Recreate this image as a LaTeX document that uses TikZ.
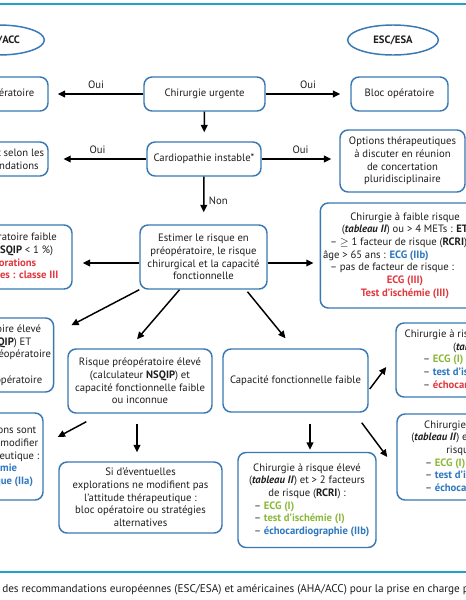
\documentclass[tikz,border=0pt]{standalone}
\usepackage{fontspec}
\setmainfont{PT Sans}
\usepackage{xcolor}
\usetikzlibrary{calc,arrows.meta,positioning,shapes.geometric}
\definecolor{bordc}{HTML}{3A78B5}
\definecolor{rulec}{HTML}{1FA3C8}
\definecolor{txtc}{HTML}{1E1E1E}
\definecolor{clsI}{HTML}{8DB83A}
\definecolor{clsII}{HTML}{2E78C0}
\definecolor{clsIII}{HTML}{E2383F}
\newcommand{\gI}[1]{\textcolor{clsI}{\textbf{#1}}}
\newcommand{\bII}[1]{\textcolor{clsII}{\textbf{#1}}}
\newcommand{\rIII}[1]{\textcolor{clsIII}{\textbf{#1}}}
\newcommand{\tabII}{\textbf{\textit{tableau II}}}
\newcommand{\itm}[2]{\makebox[#1][l]{– #2}}
\tikzset{
  ar/.style={-{Triangle[length=5.5pt,width=5pt]},line width=1.1pt,black},
  box/.style={draw=bordc,line width=1.1pt,rounded corners=6pt,align=center,inner sep=2pt,text=txtc,font=\fontsize{8}{9.5}\selectfont},
  ovl/.style={ellipse,draw=bordc,line width=1.1pt,text=txtc,font=\fontsize{8}{9.5}\selectfont\bfseries,minimum width=68pt,minimum height=22.5pt},
  lbl/.style={font=\fontsize{8}{9.5}\selectfont,text=txtc},
  rule/.style={rulec,line width=1.6pt}
}
\begin{document}
\begin{tikzpicture}[x=0.75pt,y=-0.75pt]
\useasboundingbox (0,0) rectangle (466,600);
\fill[white] (0,0) rectangle (466,600);
\clip (0,0) rectangle (466,600);
\draw[rule] (0,4) -- (466,4);
\draw[rule] (0,572) -- (466,572);
% titres
\node[ovl] (aha) at (-1,40) {AHA/ACC};
\node[ovl] (esc) at (393,40) {ESC/ESA};
% urgence
\node[box,minimum width=90.75pt,minimum height=25.5pt] (urg) at (204.5,94) {Chirurgie urgente};
\node[box,minimum width=72.75pt,minimum height=25.5pt] (blocL) at (-0.5,94) {Bloc opératoire};
\node[box,minimum width=72.75pt,minimum height=25.5pt] (blocR) at (399.5,94) {Bloc opératoire};
% cardiopathie
\node[box,minimum width=85.5pt,minimum height=25.5pt] (cardio) at (204,159) {Cardiopathie instable*};
\node[box,minimum width=75pt,minimum height=25.5pt] (recoL) at (-2,159) {Traitement selon les\\recommandations};
\node[box,minimum width=93.75pt,minimum height=46.5pt] (optR) at (402.5,161) {Options thérapeutiques\\à discuter en réunion\\de concertation\\pluridisciplinaire};
% estimation
\node[box,minimum width=95.25pt,minimum height=48pt] (estim) at (203.5,257) {Estimer le risque en\\préopératoire, le risque\\chirurgical et la capacité\\fonctionnelle};
\node[box,minimum width=115.5pt,minimum height=48pt] (faibleL) at (-5,257) {Risque préopératoire faible\\(calculateur \textbf{NSQIP} < 1 \%)\\\rIII{pas d’explorations}\\\rIII{complémentaires : classe III}};
\node[box,minimum width=126pt,minimum height=78.75pt] (faibleR) at (405,255.5) {Chirurgie à faible risque\\(\tabII) ou > 4 METs : \textbf{ET}\\\makebox[112.5pt][l]{– $\geq$ 1 facteur de risque (\textbf{RCRI}) ou}\\\makebox[123pt][l]{âge > 65 ans : \bII{ECG (IIb)}}\\\makebox[112.5pt][l]{– pas de facteur de risque :}\\\rIII{ECG (III)}\\\rIII{Test d’ischémie (III)}};
% risque eleve
\node[box,minimum width=109.5pt,minimum height=55.5pt] (eleveL) at (-20,355) {Risque préopératoire élevé\\(calculateur \textbf{NSQIP}) ET\\pas d’exploration préopératoire\\\\chirurgie et bloc opératoire};
\node[box,minimum width=108pt,minimum height=48pt] (eleveInc) at (140,381) {Risque préopératoire élevé\\(calculateur \textbf{NSQIP}) et\\capacité fonctionnelle faible\\ou inconnue};
\node[box,minimum width=108.75pt,minimum height=47.25pt] (capF) at (295.5,380.5) {Capacité fonctionnelle faible};
\node[box,minimum width=121.5pt,minimum height=55.5pt] (interR) at (477,360) {Chirurgie à risque intermédiaire\\(\tabII)\\\itm{81pt}{\gI{ECG (I)}}\\\itm{81pt}{\bII{test d’ischémie (IIb)}}\\\itm{81pt}{\rIII{échocardiographie (III)}}};
\node[box,minimum width=121.5pt,minimum height=64.5pt] (lowR) at (478,457) {Chirurgie à risque élevé\\(\tabII) et $\leq$ 2 facteurs de\\risque (\textbf{RCRI}) :\\\itm{79.5pt}{\gI{ECG (I)}}\\\itm{79.5pt}{\bII{test d’ischémie (IIb)}}\\\itm{79.5pt}{\bII{échocardiographie (IIb)}}};
\node[box,minimum width=103.5pt,minimum height=71.25pt] (eleveRC) at (307,500) {Chirurgie à risque élevé\\(\tabII) et > 2 facteurs\\de risque (\textbf{RCRI}) :\\\itm{79.5pt}{\gI{ECG (I)}}\\\itm{79.5pt}{\gI{test d’ischémie (I)}}\\\itm{79.5pt}{\bII{échocardiographie (IIb)}}};
\node[box,minimum width=122.25pt,minimum height=53.25pt] (siEv) at (140.5,497.5) {Si d’éventuelles\\explorations ne modifient pas\\l’attitude thérapeutique :\\bloc opératoire ou stratégies\\alternatives};
\node[box,minimum width=90pt,minimum height=65.25pt] (explL) at (-17,456.5) {Si les explorations sont\\susceptibles de modifier\\l’attitude thérapeutique :\\\bII{test d’ischémie}\\\bII{pharmacologique (IIa)}};
% legende
\node[lbl,font=\fontsize{8.4}{10}\selectfont,anchor=west,inner sep=0pt] (leg) at (2,590) {des recommandations européennes (ESC/ESA) et américaines (AHA/ACC) pour la prise en charge préopératoire};
% fleches
\draw[ar,shorten >=6.75pt] (urg) -- node[lbl,above]{Oui} (blocL);
\draw[ar,shorten >=7.5pt] (urg) -- node[lbl,above]{Oui} (blocR);
\draw[ar,shorten >=6.75pt] (urg) -- (cardio);
\draw[ar,shorten >=11pt] (cardio) -- node[lbl,above]{Oui} (recoL);
\draw[ar,shorten >=6pt] (cardio.east) -- node[lbl,above]{Oui} (cardio.east -| optR.west);
\draw[ar,shorten >=9pt] (cardio) -- node[lbl,right,pos=.5]{Non} (estim);
\coordinate (e1) at ($(estim.west)+(0,6)$);
\coordinate (e2) at ($(estim.east)+(0,6)$);
\draw[ar,shorten >=7.5pt] (e1) -- (e1 -| faibleL.east);
\draw[ar,shorten >=4.5pt] (e2) -- (e2 -| faibleR.west);
\draw[ar] (estim.south west) -- ($(eleveL.north east)+(17,8)$);
\draw[ar] ($(estim.south)+(-24,0)$) -- ($(eleveInc.north)+(-3,-9)$);
\draw[ar] ($(estim.south)+(44,2)$) -- ($(capF.north)+(-10,-10)$);
\draw[ar] ($(eleveInc.south)+(-3,10)$) -- ($(siEv.north)+(-3.5,-9)$);
\draw[ar] ($(eleveInc.south west)+(19,8)$) -- ($(explL.east)+(14,-19.5)$);
\draw[ar] ($(capF.south)+(14.5,11)$) -- ($(eleveRC.north)+(3,-2)$);
\draw[ar] ($(capF.south east)+(-7,10)$) -- ($(lowR.west)+(-9,0)$);
\draw[ar] ($(capF.east)+(1,8.5)$) -- ($(interR.west)+(-9,7)$);
\end{tikzpicture}
\end{document}
